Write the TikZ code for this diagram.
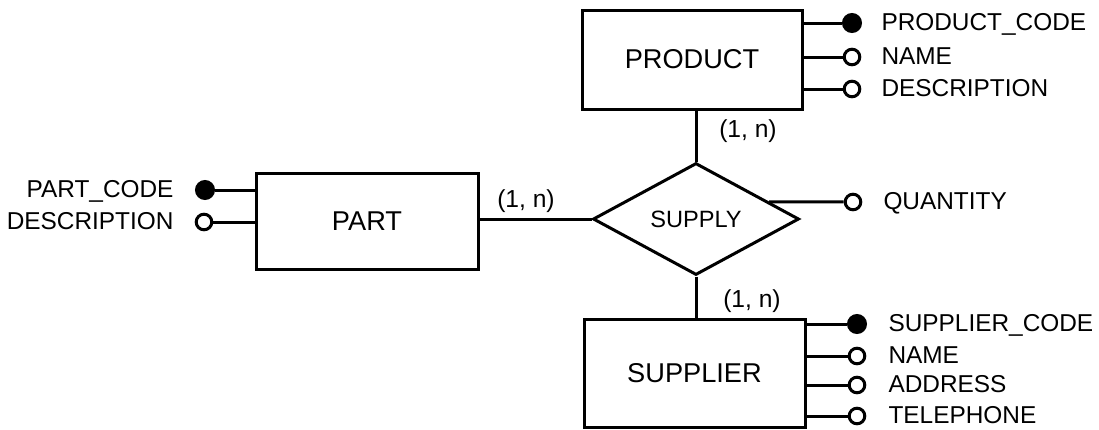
\documentclass[tikz,border=0pt]{standalone}
\usepackage{fontspec}
\setmainfont{Liberation Sans}
\usetikzlibrary{shapes.geometric,calc}
\begin{document}
\begin{tikzpicture}[x=0.5pt,y=-0.5pt,
  line width=1.5pt,
  entity/.style={draw, rectangle, inner sep=0pt, font=\fontsize{13.6}{16}\selectfont},
  relation/.style={draw, diamond, aspect=1.84, inner sep=0pt, font=\fontsize{11.8}{14}\selectfont},
  keyattr/.style={draw, circle, fill=black, minimum size=8.5pt, inner sep=0pt},
  attr/.style={draw, circle, fill=white, minimum size=7.8pt, inner sep=0pt},
  lbl/.style={inner sep=0pt, text height=0.72em, text depth=0pt, font=\fontsize{12.2}{14}\selectfont},
  card/.style={lbl, font=\fontsize{12.3}{14}\selectfont}]
\useasboundingbox (0,0) rectangle (1099,429);

% entities and relationship
\node[entity, minimum width=110pt, minimum height=49.5pt] (product) at (692,59.5) {PRODUCT};
\node[entity, minimum width=111pt, minimum height=48pt] (part) at (367,221) {PART};
\node[entity, minimum width=110.5pt, minimum height=54pt] (supplier) at (694.5,373) {SUPPLIER};
\node[relation, minimum width=103pt, minimum height=56pt] (supply) at (696,219) {SUPPLY};

% relationship links with cardinalities
\draw (part.east |- supply.west) -- (supply.west);
\draw (supply.north |- product.south) -- (supply.north);
\draw (supply.south) -- (supply.south |- supplier.north);
\node[card] (c1) at (526,200) {(1, n)};
\node[card] (c2) at (748,130) {(1, n)};
\node[card] (c3) at (752,300) {(1, n)};

% PRODUCT attributes
\node[keyattr] (pcode) at (852,23) {};
\node[attr] (pname) at (852,57) {};
\node[attr] (pdesc) at (852,89) {};
\node[lbl, anchor=west] (lpcode) at (880,23) {PRODUCT\_CODE};
\node[lbl, anchor=west] (lpname) at (880,57) {NAME};
\node[lbl, anchor=west] (lpdesc) at (880,89) {DESCRIPTION};
\foreach \a in {pcode,pname,pdesc} \draw (\a -| product.east) -- (\a);

% PART attributes
\node[keyattr] (tcode) at (205,190) {};
\node[attr] (tdesc) at (204,222) {};
\node[lbl, anchor=east] (ltcode) at (175,190) {PART\_CODE};
\node[lbl, anchor=east] (ltdesc) at (175,222) {DESCRIPTION};
\foreach \a in {tcode,tdesc} \draw (\a) -- (\a -| part.west);

% SUPPLY attribute
\node[attr] (qty) at (853,202) {};
\node[lbl, anchor=west] (lqty) at (882,202) {QUANTITY};
\coordinate (qa) at ($(supply.north)!0.7!(supply.east)$);
\draw (qa) -- (qty);

% SUPPLIER attributes
\node[keyattr] (scode) at (857,324) {};
\node[attr] (sname) at (857,356) {};
\node[attr] (saddr) at (857,385) {};
\node[attr] (stel) at (857,416) {};
\node[lbl, anchor=west] (lscode) at (887,324) {SUPPLIER\_CODE};
\node[lbl, anchor=west] (lsname) at (887,356) {NAME};
\node[lbl, anchor=west] (lsaddr) at (887,385) {ADDRESS};
\node[lbl, anchor=west] (lstel) at (887,416) {TELEPHONE};
\foreach \a in {scode,sname,saddr,stel} \draw (\a -| supplier.east) -- (\a);
\end{tikzpicture}
\end{document}
